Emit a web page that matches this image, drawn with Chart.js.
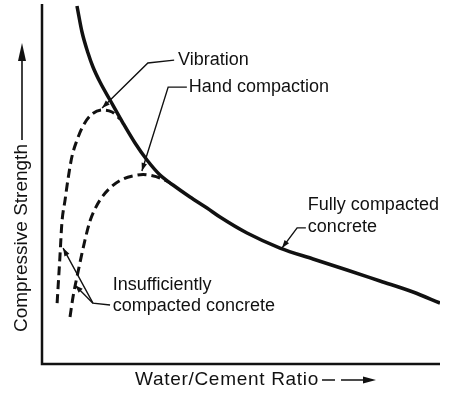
<!DOCTYPE html>
<html>
<head>
<meta charset="utf-8">
<script src="https://cdn.jsdelivr.net/npm/chart.js@4.4.1/dist/chart.umd.min.js"></script>
<style>
  html, body { margin: 0; padding: 0; background: #fff; }
  #chart { display: block; }
</style>
</head>
<body>
<canvas id="chart" width="458" height="393"></canvas>
<script>
// relative units, 0..100 on both axes (no ticks in the original)
const fullX = [8.79, 10.05, 11.56, 12.81, 14.57, 17.09, 20.35, 23.37, 26.38, 29.65, 32.91, 37.19, 41.46, 44.72, 51.51, 59.80, 68.09, 76.63, 84.92, 93.22, 100.0];
const fullY = [99.44, 92.22, 86.39, 82.50, 78.33, 73.33, 66.94, 61.39, 56.67, 52.50, 49.72, 46.39, 43.33, 40.83, 36.39, 32.22, 29.17, 26.11, 23.06, 20.00, 16.94];

const vibX = [3.8, 4.0, 4.5, 5.0, 5.8, 6.5, 7.5, 8.8, 10.3, 12.31, 15.33, 17.59, 19.6];
const vibY = [16.9, 20.6, 29.7, 39.2, 45.6, 51.1, 57.5, 62.2, 66.1, 69.17, 70.56, 70.0, 68.06];

const handX = [7.04, 7.79, 9.05, 10.80, 12.06, 13.32, 14.57, 17.09, 20.35, 23.37, 25.38, 27.39, 29.65, 32.16, 33.67];
const handY = [13.06, 18.61, 25.56, 34.44, 39.72, 43.06, 45.56, 48.89, 51.39, 52.36, 52.64, 52.36, 51.67, 50.28, 49.17];

// annotation texts, anchored in data units
const labelText = ['Vibration', 'Hand compaction', 'Fully compacted', 'concrete', 'Insufficiently', 'compacted concrete'];
const labelX = [34.2, 36.9, 66.8, 66.8, 17.8, 17.8];
const labelY = [84.4, 76.9, 44.2, 38.1, 21.9, 16.1];

// leader lines (data units), last point gets an arrow head
const leaders = [
    [[33.2, 84.4], [26.6, 83.6], [15.1, 71.1]],
    [[36.4, 76.9], [31.7, 76.9], [25.1, 53.6]],
    [[66.3, 37.8], [64.1, 37.8], [60.3, 32.2]],
    [[17.1, 16.4], [12.8, 16.9], [5.3, 32.2]],
    [[12.8, 16.9], [8.3, 21.9]]
];

const yTitle = 'Compressive Strength';
const xTitle = 'Water/Cement Ratio';

const ink = '#111';
const font = '"Liberation Sans", Arial, Helvetica, sans-serif';

function toPoints(xs, ys) {
    return xs.map((x, i) => ({ x: x, y: ys[i] }));
}

function arrowHead(ctx, x0, y0, x1, y1, len, half) {
    const a = Math.atan2(y1 - y0, x1 - x0);
    ctx.beginPath();
    ctx.moveTo(x1, y1);
    ctx.lineTo(x1 - len * Math.cos(a) + half * Math.sin(a), y1 - len * Math.sin(a) - half * Math.cos(a));
    ctx.lineTo(x1 - len * Math.cos(a) - half * Math.sin(a), y1 - len * Math.sin(a) + half * Math.cos(a));
    ctx.closePath();
    ctx.fill();
}

const sketchPlugin = {
    id: 'sketch',
    afterDraw(chart) {
        const ctx = chart.ctx;
        const area = chart.chartArea;
        const sx = chart.scales.x;
        const sy = chart.scales.y;
        ctx.save();
        ctx.strokeStyle = ink;
        ctx.fillStyle = ink;

        // axes
        ctx.lineWidth = 2.5;
        ctx.beginPath();
        ctx.moveTo(area.left, area.top);
        ctx.lineTo(area.left, area.bottom);
        ctx.lineTo(area.right, area.bottom);
        ctx.stroke();

        // leader lines
        ctx.lineWidth = 1.4;
        leaders.forEach(pts => {
            const px = pts.map(p => [sx.getPixelForValue(p[0]), sy.getPixelForValue(p[1])]);
            ctx.beginPath();
            px.forEach((p, i) => i === 0 ? ctx.moveTo(p[0], p[1]) : ctx.lineTo(p[0], p[1]));
            ctx.stroke();
            const a = px[px.length - 2], b = px[px.length - 1];
            arrowHead(ctx, a[0], a[1], b[0], b[1], 8, 2.8);
        });

        // labels
        ctx.font = '18px ' + font;
        ctx.textAlign = 'left';
        ctx.textBaseline = 'middle';
        labelText.forEach((t, i) => {
            ctx.fillText(t, sx.getPixelForValue(labelX[i]), sy.getPixelForValue(labelY[i]));
        });

        // y title with long arrow
        const y0 = area.bottom - 32;
        ctx.save();
        ctx.translate(area.left - 20, y0);
        ctx.rotate(-Math.PI / 2);
        ctx.font = '19px ' + font;
        ctx.fillText(yTitle, 0, 0);
        const yw = ctx.measureText(yTitle).width;
        ctx.lineWidth = 1.6;
        ctx.beginPath();
        ctx.moveTo(yw + 4, 0);
        ctx.lineTo(y0 - (area.top + 54), 0);
        ctx.stroke();
        arrowHead(ctx, 0, 0, y0 - (area.top + 39), 0, 18, 4);
        ctx.restore();

        // x title with dashed arrow
        ctx.font = '19px ' + font;
        ctx.letterSpacing = '0.7px';
        const tx = 135, ty = area.bottom + 16;
        ctx.fillText(xTitle, tx, ty);
        const xw = ctx.measureText(xTitle).width;
        ctx.letterSpacing = '0px';
        ctx.lineWidth = 1.6;
        ctx.beginPath();
        ctx.moveTo(tx + xw + 3, ty);
        ctx.lineTo(tx + xw + 16, ty);
        ctx.moveTo(tx + xw + 22, ty);
        ctx.lineTo(tx + xw + 44, ty);
        ctx.stroke();
        arrowHead(ctx, tx + xw + 30, ty, tx + xw + 57, ty, 13, 3.5);

        ctx.restore();
    }
};

const lineStyle = {
    showLine: true,
    borderColor: ink,
    pointRadius: 0,
    pointHoverRadius: 0,
    fill: false,
    cubicInterpolationMode: 'monotone',
    borderCapStyle: 'butt'
};

new Chart(document.getElementById('chart').getContext('2d'), {
    type: 'scatter',
    data: {
        datasets: [
            Object.assign({ label: 'Fully compacted concrete', data: toPoints(fullX, fullY), borderWidth: 3.5 }, lineStyle),
            Object.assign({ label: 'Vibration', data: toPoints(vibX, vibY), borderWidth: 3, borderDash: [9, 5] }, lineStyle),
            Object.assign({ label: 'Hand compaction', data: toPoints(handX, handY), borderWidth: 3, borderDash: [9, 5] }, lineStyle)
        ]
    },
    options: {
        responsive: false,
        animation: false,
        devicePixelRatio: 1,
        layout: { padding: { left: 42, right: 18, top: 4, bottom: 29 } },
        scales: {
            x: { type: 'linear', min: 0, max: 100, display: false },
            y: { type: 'linear', min: 0, max: 100, display: false }
        },
        plugins: {
            legend: { display: false },
            tooltip: { enabled: false }
        }
    },
    plugins: [sketchPlugin]
});
</script>
</body>
</html>
